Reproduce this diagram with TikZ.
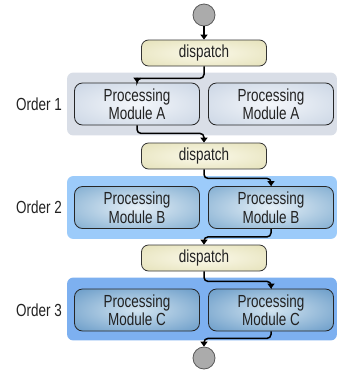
\documentclass[tikz,border=0pt]{standalone}
\usepackage{fontspec}
\setmainfont{Liberation Sans}[FakeStretch=0.77]
\usetikzlibrary{positioning,arrows.meta,backgrounds}

\definecolor{dispIn}{HTML}{FBF9EA}
\definecolor{dispOut}{HTML}{DCD8A6}
\definecolor{grpA}{HTML}{D9DEE7}
\definecolor{grpB}{HTML}{9CCBFA}
\definecolor{grpC}{HTML}{7DB0F0}
\definecolor{modAin}{HTML}{F4F7FB}
\definecolor{modAout}{HTML}{BAC8DB}
\definecolor{modBin}{HTML}{E6F0F7}
\definecolor{modBout}{HTML}{5A93C2}
\definecolor{modCin}{HTML}{D2E4F0}
\definecolor{modCout}{HTML}{3F7EB8}
\definecolor{txt}{HTML}{222222}

% soft radial fills that reach the box edges
\pgfdeclareradialshading{shDisp}{\pgfpoint{0bp}{0bp}}{color(0bp)=(dispIn); color(50bp)=(dispOut)}
\pgfdeclareradialshading{shA}{\pgfpoint{0bp}{0bp}}{color(0bp)=(modAin); color(50bp)=(modAout)}
\pgfdeclareradialshading{shB}{\pgfpoint{0bp}{0bp}}{color(0bp)=(modBin); color(50bp)=(modBout)}
\pgfdeclareradialshading{shC}{\pgfpoint{0bp}{0bp}}{color(0bp)=(modCin); color(50bp)=(modCout)}

\tikzset{
  base/.style={font=\fontsize{17.5}{18.5}\selectfont, text=txt},
  dispbox/.style={base, draw=black!80, line width=0.8pt, rounded corners=7pt,
    minimum width=125pt, minimum height=26pt, inner sep=0pt, shading=shDisp},
  module/.style={base, draw=black!85, line width=0.8pt, rounded corners=8pt,
    minimum width=125pt, minimum height=42pt, inner sep=0pt, align=center},
  modA/.style={module, shading=shA},
  modB/.style={module, shading=shB},
  modC/.style={module, shading=shC},
  endpt/.style={circle, draw=black!65, fill=black!33, line width=0.8pt,
    minimum size=22pt, inner sep=0pt},
  lbl/.style={base, inner sep=2pt},
  grp/.style={rounded corners=6pt},
  flow/.style={line width=1.5pt, rounded corners=4pt,
    -{Triangle[width=7pt,length=5pt]}}
}

\begin{document}
\begin{tikzpicture}[x=1pt, y=-1pt]
\useasboundingbox (0,0) rectangle (337,373);

% start and end points
\node[endpt] (s) at (204,15) {};
\node[endpt] (e) at (204,358) {};

% dispatch steps
\node[dispbox] (d1) at (204,53) {dispatch};
\node[dispbox] (d2) at (204,156) {dispatch};
\node[dispbox] (d3) at (204,258) {dispatch};

% processing modules, two per order
\node[modA] (a1) at (137,104) {Processing\\Module A};
\node[modA] (a2) at (271,104) {Processing\\Module A};
\node[modB] (b1) at (137,207.5) {Processing\\Module B};
\node[modB] (b2) at (271,207.5) {Processing\\Module B};
\node[modC] (c1) at (137,310) {Processing\\Module C};
\node[modC] (c2) at (271,310) {Processing\\Module C};

% order labels
\node[lbl, left=10pt of a1] (o1) {Order 1};
\node[lbl, left=10pt of b1] (o2) {Order 2};
\node[lbl, left=10pt of c1] (o3) {Order 3};

% group panels behind each order
\begin{scope}[on background layer]
  \fill[grp, grpA] ([shift={(-7,-10)}]a1.north west) rectangle ([shift={(3,10)}]a2.south east);
  \fill[grp, grpB] ([shift={(-7,-10)}]b1.north west) rectangle ([shift={(3,10)}]b2.south east);
  \fill[grp, grpC] ([shift={(-7,-11)}]c1.north west) rectangle ([shift={(3,9)}]c2.south east);
\end{scope}

% flow
\draw[flow] (s) -- (d1);
\draw[flow] (d1.south) -- ++(0,12) -| (a1.north);
\draw[flow] (a1.south) -- ++(0,8) -| (d2.north);
\draw[flow] (d2.south) -- ++(0,9) -| (b2.north);
\draw[flow] (b2.south) -- ++(0,8) -| (d3.north);
\draw[flow] (d3.south) -- ++(0,10) -| (c2.north);
\draw[flow] (c2.south) -- ++(0,7) -| (e.north);
\end{tikzpicture}
\end{document}
